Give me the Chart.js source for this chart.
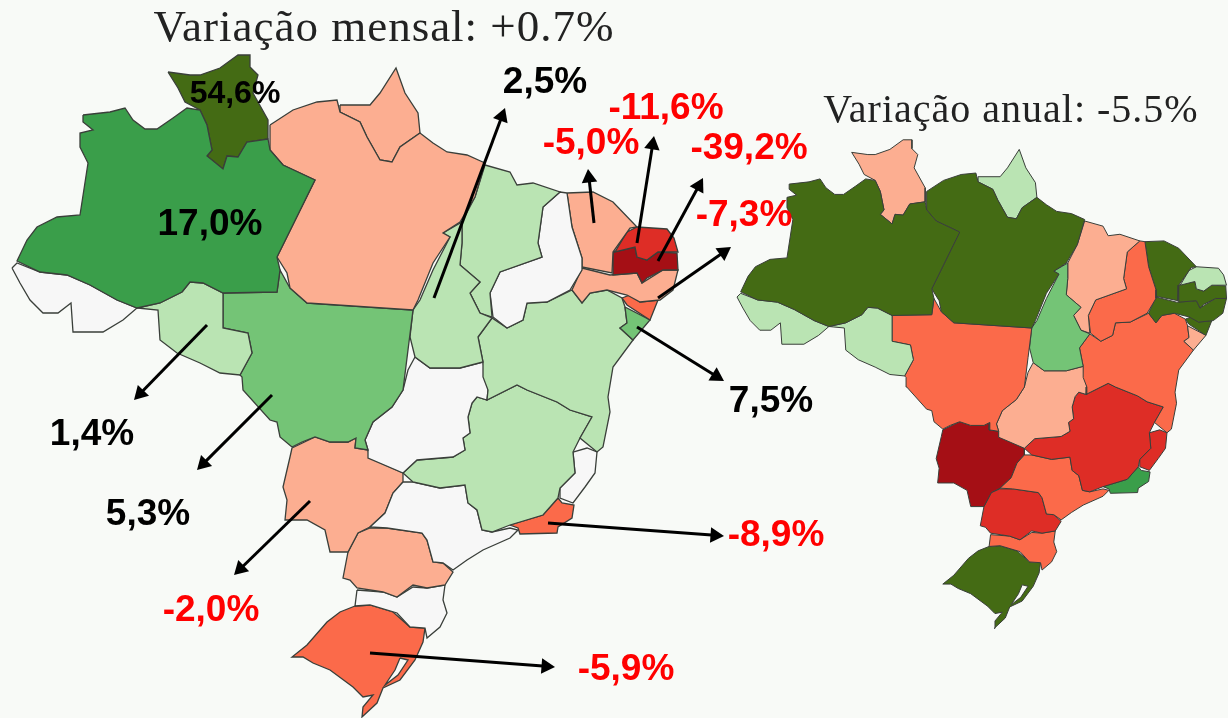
<!DOCTYPE html>
<html lang="pt"><head><meta charset="utf-8">
<style>html,body{margin:0;padding:0;background:#f8faf7;overflow:hidden}canvas{display:block}</style>
<script src="https://cdn.jsdelivr.net/npm/chart.js@4"></script></head>
<body><canvas id="c" width="1228" height="718"></canvas>
<script>
// State order
const states = ["AM","RR","PA","AP","AC","RO","MT","TO","MA","PI","CE","RN","PB","PE","AL","SE","BA","GO","DF","MG","ES","RJ","SP","MS","PR","SC","RS"];
// Colour class per state (indices into classColors)
const classColors = ["#446b14","#3a9e4a","#74c476","#bae4b3","#f7f7f7","#fcae91","#fb6a4a","#de2d26","#a50f15"];
const monthlyClass = [1,0,5,5,4,3,2,3,3,4,5,7,8,5,6,2,3,4,5,3,4,6,4,5,5,4,6];
const annualClass  = [0,5,0,3,3,3,6,2,5,6,0,3,0,0,0,5,6,5,1,7,7,1,6,8,7,6,0];
// Labelled monthly values
const labelTexts = ["54,6%","17,0%","2,5%","-11,6%","-5,0%","-39,2%","-7,3%","7,5%","1,4%","5,3%","-2,0%","-8,9%","-5,9%"];
const labelX = [235,210,545,666,591,749,744,771,92,148,211,776,626];
const labelY = [94,225,83,109,144,149,216,402,435,515,611,536,670];
const labelSize = [32,37,37,37,37,37,37,37,37,37,37,37,37];
// Arrow starts and tips
const arrowFrom = [[434,298],[594,223],[637,243],[658,261],[658,298],[637,327],[548,523],[370,653],[310,501],[272,395],[207,325]];
const arrowTo = [[505,108],[588,169],[654,136],[703,178],[731,247],[724,381],[724,536],[555,667],[234,575],[197,470],[134,400]];
const titles = ["Variação mensal: +0.7%","Variação anual: -5.5%"];

// State outlines in the main map's coordinates
const AM=[[83,115],[110,112],[125,108],[133,120],[145,129],[157,129],[173,118],[187,108],[200,110],[207,125],[212,150],[207,156],[223,169],[227,156],[238,157],[247,142],[268,139],[270,150],[283,165],[315,180],[277,257],[280,270],[277,292],[223,293],[203,283],[190,282],[182,292],[160,303],[137,308],[117,300],[90,285],[67,275],[40,272],[17,261],[27,240],[37,227],[57,217],[80,215],[88,163],[80,147],[80,133],[93,130],[83,122]];
const RR=[[168,72],[190,75],[200,75],[220,68],[238,55],[250,55],[250,67],[258,75],[253,93],[268,120],[268,139],[247,142],[238,157],[227,156],[223,169],[207,156],[212,150],[207,125],[200,110],[185,102],[178,88]];
const PA=[[270,125],[293,110],[317,102],[337,100],[340,112],[360,122],[367,137],[380,160],[392,162],[400,147],[420,133],[433,143],[447,152],[467,155],[485,163],[475,197],[460,222],[443,233],[450,237],[433,263],[418,300],[413,310],[307,303],[290,288],[287,273],[277,257],[315,180],[283,165],[270,150]];
const AP=[[340,105],[370,105],[380,93],[396,68],[405,93],[418,113],[420,133],[400,147],[392,162],[380,160],[367,137],[360,122],[340,112]];
const AC=[[12,268],[17,263],[40,272],[67,275],[90,285],[117,300],[137,308],[123,320],[103,332],[73,332],[71,303],[58,313],[43,313],[30,300],[20,283]];
const RO=[[182,292],[160,303],[137,308],[158,310],[160,340],[177,353],[200,363],[220,373],[240,375],[252,353],[248,333],[223,328],[223,293],[203,283],[190,282]];
const MT=[[223,293],[277,292],[280,270],[290,288],[307,303],[413,310],[408,350],[403,390],[392,407],[373,422],[365,440],[368,450],[355,448],[356,438],[348,442],[330,442],[315,437],[302,442],[292,447],[280,437],[277,422],[270,420],[243,390],[242,377],[240,375],[252,353],[248,333],[223,328]];
const TO=[[462,222],[443,233],[450,237],[433,270],[420,300],[413,310],[410,337],[415,357],[430,368],[460,368],[483,362],[478,337],[492,318],[480,313],[470,293],[480,282],[460,265],[462,243]];
const MA=[[485,165],[510,172],[517,185],[533,183],[560,192],[543,207],[538,243],[542,257],[500,272],[490,293],[492,317],[480,313],[470,293],[480,282],[460,265],[462,243],[462,222],[475,197]];
const PI=[[567,193],[572,227],[582,258],[582,270],[570,290],[547,302],[527,303],[523,320],[507,328],[493,317],[490,293],[500,272],[542,257],[538,243],[543,207],[560,192]];
const CE=[[567,193],[593,192],[613,202],[637,227],[630,228],[613,252],[612,273],[587,268],[582,267],[582,258],[572,227]];
const RN=[[637,227],[667,229],[674,238],[678,252],[658,252],[647,260],[637,257],[635,247],[615,252],[627,232]];
const PB=[[613,252],[635,247],[637,257],[647,260],[658,252],[677,253],[678,270],[663,270],[647,278],[642,283],[637,273],[613,275]];
const PE=[[582,268],[610,275],[637,273],[642,283],[663,270],[678,270],[673,290],[660,300],[640,302],[627,295],[607,290],[590,293],[582,303],[572,290]];
const AL=[[622,298],[630,295],[640,302],[658,300],[650,320],[627,305]];
const SE=[[625,307],[650,320],[633,340],[620,328],[627,323]];
const BA=[[572,290],[582,303],[590,293],[607,290],[622,298],[625,307],[627,323],[620,328],[633,340],[613,367],[608,397],[610,412],[603,447],[597,452],[580,438],[592,417],[570,410],[557,402],[527,390],[517,385],[487,400],[488,390],[483,377],[483,362],[478,337],[492,318],[507,328],[523,320],[527,303],[547,302]];
const GO=[[415,357],[430,368],[460,368],[483,362],[488,390],[487,400],[477,397],[472,403],[468,417],[470,433],[463,438],[465,450],[453,457],[417,460],[403,473],[368,458],[368,450],[365,440],[373,422],[392,407],[403,390],[408,370]];
const DF=[[450,407],[467,407],[467,416],[450,416]];
const MG=[[403,473],[417,460],[453,457],[465,450],[463,438],[470,433],[468,417],[472,403],[477,397],[487,400],[517,385],[527,390],[557,402],[570,410],[592,417],[580,438],[573,452],[575,473],[560,488],[558,498],[543,515],[510,525],[492,532],[482,530],[477,510],[468,503],[465,485],[440,488],[413,482]];
const ES=[[573,452],[587,448],[597,452],[595,473],[585,487],[573,503],[560,498],[560,488],[575,473]];
const RJ=[[558,498],[562,503],[574,505],[572,518],[558,527],[557,533],[520,534],[518,528],[510,525],[543,515]];
const SP=[[403,482],[413,482],[440,488],[465,485],[468,503],[477,510],[482,530],[492,532],[510,528],[518,530],[510,538],[483,550],[467,560],[453,570],[443,563],[433,562],[427,540],[422,533],[387,528],[370,527],[385,513],[393,493]];
const MS=[[292,448],[315,437],[330,442],[348,442],[356,438],[355,448],[368,450],[370,458],[403,473],[403,482],[393,493],[385,513],[370,527],[358,533],[348,552],[330,552],[325,530],[307,520],[285,520],[287,500],[283,487],[290,457]];
const PR=[[370,528],[387,528],[422,533],[427,540],[433,562],[443,563],[453,572],[445,585],[427,588],[413,585],[397,597],[383,592],[357,588],[350,580],[343,578],[348,552],[358,533]];
const SC=[[357,590],[383,592],[397,597],[413,587],[427,588],[445,585],[443,600],[447,613],[440,627],[427,638],[425,628],[410,627],[397,613],[370,605],[355,606]];
const RS=[[355,606],[370,605],[393,612],[410,627],[425,628],[423,642],[415,660],[400,680],[383,688],[377,703],[362,717],[363,707],[373,695],[363,697],[353,687],[330,670],[313,663],[303,657],[292,657],[307,645],[327,622],[340,612]];
const lagoon=[[400,658],[408,660],[398,675],[385,685],[395,670]];
const outlines={AM,RR,PA,AP,AC,RO,MT,TO,MA,PI,CE,RN,PB,PE,AL,SE,BA,GO,DF,MG,ES,RJ,SP,MS,PR,SC,RS};

const BG="#f8faf7";
const toPts=(o,sx,sy,dx,dy)=>{const p=o.map(([x,y])=>({x:dx+sx*x,y:dy+sy*y}));p.push({...p[0]});return p;};
const shape=(pts,fill,line,w,order)=>({data:pts,showLine:true,fill:'shape',backgroundColor:fill,borderColor:line,borderWidth:w,pointRadius:0,tension:0,order});
const mainT=[1,1,0,0];
const smallT=[0.735,0.738,737-0.735*12,297-0.738*268];
const datasets=[];
function addMap(cls,t,w,order){
  states.forEach((s,i)=>datasets.push(shape(toPts(outlines[s],...t),classColors[cls[i]],"#3a3f3a",w,order+1)));
  datasets.push(shape(toPts(lagoon,...t),BG,"#3a3f3a",w,order));
}
addMap(annualClass,smallT,1,5);
addMap(monthlyClass,mainT,1.3,3);
const HEAD=9;
arrowFrom.forEach((a,i)=>{
  const b=arrowTo[i],ang=Math.atan2(b[0]-a[0],a[1]-b[1]),len=Math.hypot(b[0]-a[0],b[1]-a[1]);
  const c={x:b[0]-(b[0]-a[0])/len*HEAD,y:b[1]-(b[1]-a[1])/len*HEAD};
  datasets.push({data:[{x:a[0],y:a[1]},c],showLine:true,fill:false,borderColor:"#000",borderWidth:3,tension:0,
    backgroundColor:"#000",pointBackgroundColor:"#000",pointBorderWidth:0,pointStyle:'triangle',
    pointRadius:[0,HEAD],pointRotation:ang*180/Math.PI,order:1});
});
const textPlugin={id:'texts',afterDatasetsDraw(ch){
  const {ctx,scales:{x,y}}=ch;ctx.save();ctx.textBaseline='middle';ctx.textAlign='center';
  labelTexts.forEach((t,i)=>{
    ctx.font=`bold ${labelSize[i]}px "Liberation Sans"`;
    ctx.fillStyle=t[0]==='-'?"#ff0000":"#000000";
    ctx.fillText(t,x.getPixelForValue(labelX[i]),y.getPixelForValue(labelY[i]));
  });
  ctx.fillStyle="#222";
  ctx.letterSpacing='1px';
  ctx.font='45px "Liberation Serif"';
  ctx.fillText(titles[0],x.getPixelForValue(384),y.getPixelForValue(29));
  ctx.font='40px "Liberation Serif"';
  ctx.fillText(titles[1],x.getPixelForValue(1011),y.getPixelForValue(111));
  ctx.restore();
}};
const bgPlugin={id:'bg',beforeDraw(ch){const c=ch.ctx;c.save();c.fillStyle=BG;c.fillRect(0,0,ch.width,ch.height);c.restore();}};
new Chart(document.getElementById('c'),{type:'scatter',data:{datasets},plugins:[bgPlugin,textPlugin],options:{
  responsive:false,animation:false,layout:{padding:0,autoPadding:false},
  plugins:{legend:{display:false},tooltip:{enabled:false}},events:[],
  scales:{x:{type:'linear',display:false,min:0,max:1228},y:{type:'linear',display:false,min:0,max:718,reverse:true}}
}});
</script></body></html>
